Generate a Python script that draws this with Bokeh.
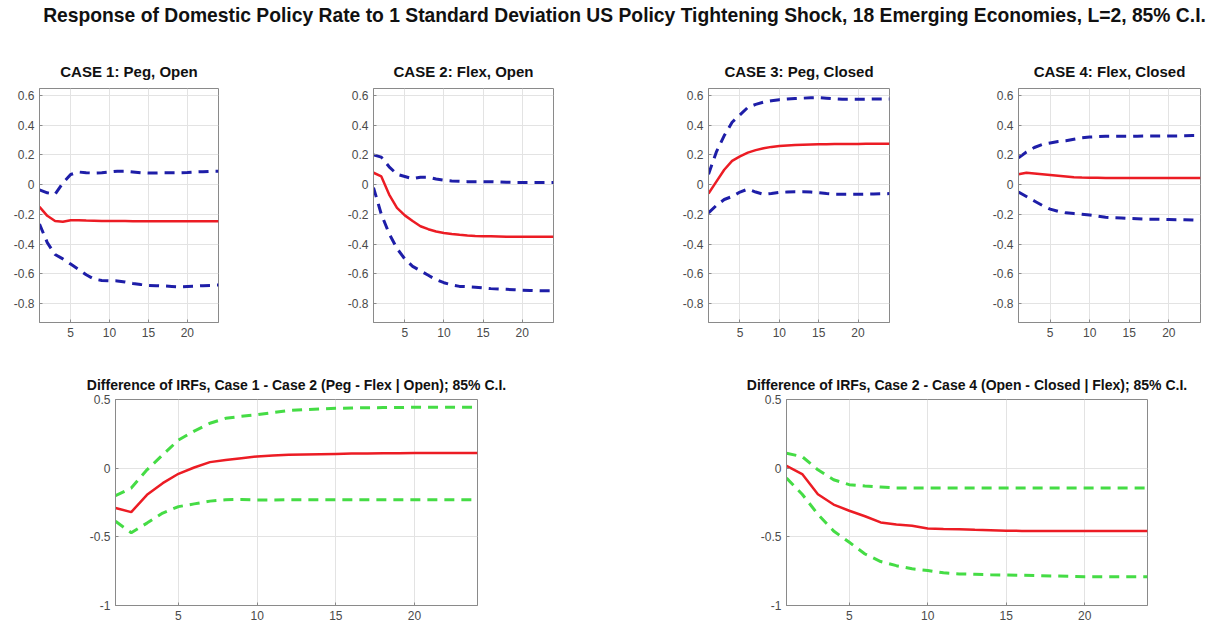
from bokeh.plotting import figure
from bokeh.layouts import column, row
from bokeh.models import Range1d, FixedTicker, PrintfTickFormatter, Div
from bokeh.embed import file_html
from bokeh.resources import INLINE

# ---------------- data ----------------
horizon = list(range(1, 25))

case1_irf = [-0.15, -0.21, -0.245, -0.25, -0.24, -0.24, -0.242, -0.243, -0.244, -0.245, -0.245, -0.245,
             -0.246, -0.246, -0.246, -0.246, -0.246, -0.246, -0.246, -0.246, -0.246, -0.246, -0.246, -0.246]
case1_up = [-0.035, -0.055, -0.065, 0.01, 0.068, 0.085, 0.08, 0.078, 0.08, 0.085, 0.09, 0.09,
            0.085, 0.08, 0.078, 0.078, 0.08, 0.08, 0.08, 0.082, 0.085, 0.087, 0.09, 0.09]
case1_lo = [-0.265, -0.39, -0.47, -0.5, -0.535, -0.57, -0.607, -0.636, -0.645, -0.647, -0.648, -0.655,
            -0.665, -0.672, -0.678, -0.68, -0.682, -0.685, -0.688, -0.685, -0.683, -0.68, -0.678, -0.676]

case2_irf = [0.08, 0.055, -0.067, -0.157, -0.207, -0.245, -0.28, -0.3, -0.315, -0.325, -0.333, -0.338,
             -0.342, -0.345, -0.347, -0.348, -0.349, -0.35, -0.35, -0.35, -0.35, -0.35, -0.35, -0.35]
case2_up = [0.2, 0.185, 0.12, 0.07, 0.055, 0.04, 0.05, 0.05, 0.038, 0.03, 0.025, 0.022,
            0.02, 0.02, 0.02, 0.02, 0.018, 0.016, 0.015, 0.015, 0.015, 0.015, 0.015, 0.015]
case2_lo = [-0.02, -0.2, -0.33, -0.43, -0.5, -0.55, -0.58, -0.61, -0.64, -0.66, -0.675, -0.685,
            -0.687, -0.69, -0.695, -0.7, -0.703, -0.705, -0.708, -0.71, -0.712, -0.714, -0.715, -0.715]

case3_irf = [-0.06, 0.02, 0.1, 0.16, 0.19, 0.215, 0.232, 0.245, 0.254, 0.26, 0.264, 0.267,
             0.269, 0.27, 0.271, 0.272, 0.273, 0.273, 0.274, 0.274, 0.275, 0.275, 0.275, 0.275]
case3_up = [0.07, 0.22, 0.33, 0.42, 0.47, 0.52, 0.54, 0.555, 0.565, 0.572, 0.576, 0.58,
            0.582, 0.584, 0.585, 0.582, 0.578, 0.575, 0.575, 0.575, 0.575, 0.576, 0.577, 0.577]
case3_lo = [-0.19, -0.14, -0.1, -0.08, -0.05, -0.03, -0.05, -0.065, -0.06, -0.052, -0.05, -0.048,
            -0.048, -0.05, -0.055, -0.06, -0.064, -0.065, -0.065, -0.065, -0.064, -0.063, -0.062, -0.06]

case4_irf = [0.07, 0.08, 0.075, 0.07, 0.065, 0.06, 0.055, 0.05, 0.048, 0.047, 0.046, 0.045,
             0.045, 0.045, 0.045, 0.045, 0.045, 0.045, 0.045, 0.045, 0.045, 0.045, 0.045, 0.045]
case4_up = [0.18, 0.22, 0.25, 0.27, 0.28, 0.29, 0.295, 0.305, 0.315, 0.32, 0.323, 0.325,
            0.325, 0.325, 0.325, 0.326, 0.327, 0.327, 0.327, 0.328, 0.328, 0.329, 0.33, 0.33]
case4_lo = [-0.05, -0.08, -0.11, -0.14, -0.165, -0.18, -0.19, -0.195, -0.2, -0.205, -0.212, -0.22,
            -0.223, -0.225, -0.228, -0.23, -0.232, -0.233, -0.234, -0.235, -0.236, -0.237, -0.238, -0.24]

diff12_irf = [-0.29, -0.32, -0.194, -0.109, -0.041, 0.005, 0.044, 0.06, 0.073, 0.085, 0.092, 0.097,
              0.1, 0.102, 0.104, 0.106, 0.107, 0.108, 0.109, 0.11, 0.11, 0.11, 0.11, 0.11]
diff12_up = [-0.2, -0.145, -0.012, 0.097, 0.205, 0.27, 0.327, 0.363, 0.378, 0.39, 0.405, 0.42,
             0.426, 0.431, 0.436, 0.438, 0.44, 0.441, 0.442, 0.443, 0.443, 0.443, 0.443, 0.443]
diff12_lo = [-0.387, -0.47, -0.4, -0.327, -0.28, -0.26, -0.24, -0.23, -0.228, -0.232, -0.232, -0.23,
             -0.23, -0.23, -0.23, -0.23, -0.23, -0.23, -0.23, -0.23, -0.23, -0.23, -0.23, -0.23]

diff24_irf = [0.017, -0.043, -0.19, -0.265, -0.31, -0.35, -0.395, -0.41, -0.42, -0.44, -0.443, -0.445,
              -0.449, -0.452, -0.455, -0.457, -0.457, -0.457, -0.457, -0.457, -0.457, -0.457, -0.457, -0.457]
diff24_up = [0.108, 0.084, -0.012, -0.084, -0.12, -0.13, -0.137, -0.144, -0.144, -0.144, -0.144, -0.144,
             -0.144, -0.144, -0.144, -0.144, -0.144, -0.144, -0.144, -0.144, -0.144, -0.144, -0.144, -0.144]
diff24_lo = [-0.072, -0.19, -0.336, -0.457, -0.54, -0.625, -0.68, -0.71, -0.733, -0.745, -0.762, -0.77,
             -0.773, -0.776, -0.778, -0.78, -0.783, -0.785, -0.787, -0.79, -0.79, -0.79, -0.79, -0.79]

top_titles = ["CASE 1: Peg, Open", "CASE 2: Flex, Open", "CASE 3: Peg, Closed", "CASE 4: Flex, Closed"]
bottom_titles = ["Difference of IRFs, Case 1 - Case 2 (Peg - Flex | Open); 85% C.I.",
                 "Difference of IRFs, Case 2 - Case 4 (Open - Closed | Flex); 85% C.I."]
main_title = ("Response of Domestic Policy Rate to 1 Standard Deviation US Policy Tightening Shock, "
              "18 Emerging Economies, L=2, 85% C.I.")

x_ticks = [5, 10, 15, 20]
top_y_ticks = [-0.8, -0.6, -0.4, -0.2, 0, 0.2, 0.4, 0.6]
bottom_y_ticks = [-1, -0.5, 0, 0.5]

# ---------------- styling ----------------
FONT = "Liberation Sans"
RED = "#ec1c24"
BLUE = "#1e1ea8"
GREEN = "#45dc45"
AXIS_COL = "#8a8a8a"
GRID_COL = "#e3e3e3"


def panel(title, w, h, bl, br, bt, bb, yr, yticks, irf, up, lo, band_color, tsize, tstand):
    p = figure(width=w, height=h, x_range=Range1d(1, 24), y_range=Range1d(*yr),
               output_backend="svg", toolbar_location=None,
               min_border_left=bl, min_border_right=br, min_border_top=bt, min_border_bottom=bb,
               title=title)
    p.title.align = "center"
    p.title.text_font = FONT
    p.title.text_font_size = tsize
    p.title.text_font_style = "bold"
    p.title.text_color = "#111111"
    p.title.standoff = tstand
    p.xaxis.ticker = FixedTicker(ticks=x_ticks)
    p.yaxis.ticker = FixedTicker(ticks=yticks)
    p.yaxis.formatter = PrintfTickFormatter(format="%g")
    for ax in (p.xaxis, p.yaxis):
        ax.axis_line_color = AXIS_COL
        ax.major_tick_line_color = AXIS_COL
        ax.major_tick_in = 3
        ax.major_tick_out = 0
        ax.minor_tick_line_color = None
        ax.major_label_text_font = FONT
        ax.major_label_text_font_size = "12px"
        ax.major_label_text_color = "#4a4a4a"
        ax.major_label_standoff = 5
    p.outline_line_color = AXIS_COL
    p.outline_line_alpha = 1
    p.grid.grid_line_color = GRID_COL
    p.background_fill_color = "white"
    p.border_fill_color = "white"
    p.line(horizon, up, line_color=band_color, line_width=3, line_dash="10 7")
    p.line(horizon, lo, line_color=band_color, line_width=3, line_dash="10 7")
    p.line(horizon, irf, line_color=RED, line_width=2.5)
    return p


TOP_H = 314
top_specs = [
    (top_titles[0], 335, 39, 117, case1_irf, case1_up, case1_lo),
    (top_titles[1], 335, 38, 117, case2_irf, case2_up, case2_lo),
    (top_titles[2], 310, 38, 91, case3_irf, case3_up, case3_lo),
    (top_titles[3], 229, 38, 9, case4_irf, case4_up, case4_lo),
]
top_figs = []
for t, w, bl, br, irf, up, lo in top_specs:
    top_figs.append(panel(t, w, TOP_H, bl, br, 52, 28, (-0.928, 0.647), top_y_ticks,
                          irf, up, lo, BLUE, "15px", 18))

BOT_H = 276
f5 = panel(bottom_titles[0], 600, BOT_H, 115, 123, 49, 21, (-1, 0.5), bottom_y_ticks,
           diff12_irf, diff12_up, diff12_lo, GREEN, "14px", 13)
f6 = panel(bottom_titles[1], 609, BOT_H, 186, 62, 47, 21, (-1, 0.5), bottom_y_ticks,
           diff24_irf, diff24_up, diff24_lo, GREEN, "14px", 13)

head = Div(text=main_title, width=1169, height=36, margin=(0, 0, 0, 40),
           styles={"font-family": FONT, "font-size": "19.3px", "font-weight": "bold",
                   "text-align": "center", "color": "#111111", "line-height": "32px",
                   "white-space": "nowrap"})

layout = column(head, row(*top_figs), row(f5, f6))

with open("out.html", "w") as fh:
    fh.write(file_html(layout, INLINE))
